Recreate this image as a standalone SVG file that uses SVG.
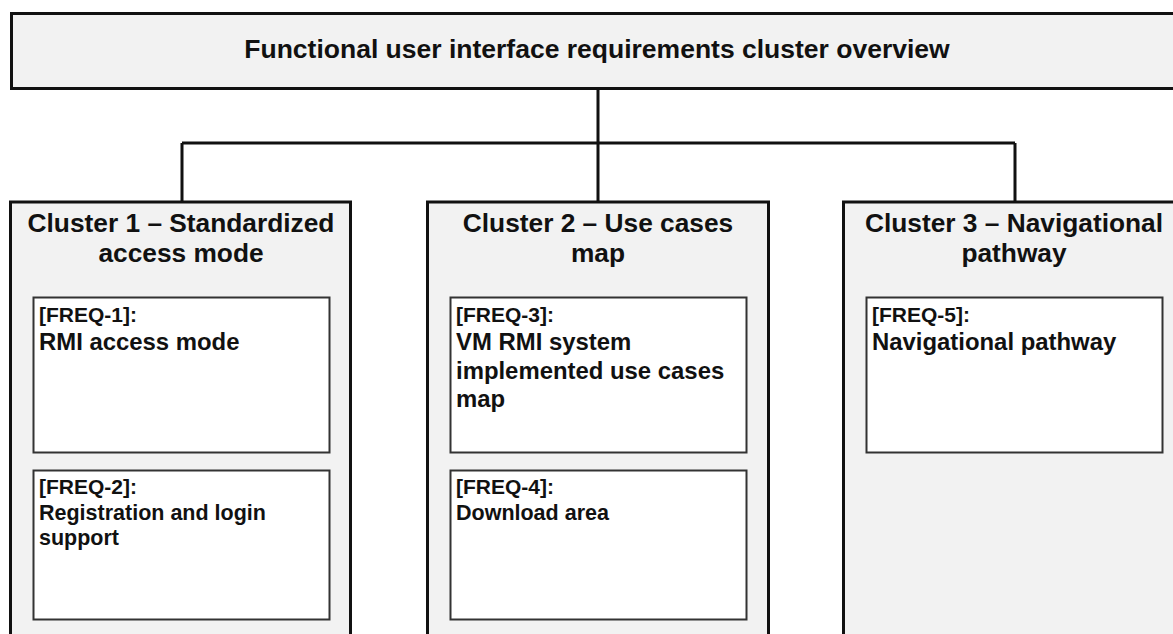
<svg xmlns="http://www.w3.org/2000/svg" width="1173" height="634" viewBox="0 0 1173 634">
<style>
  .outer { fill: #f2f2f2; stroke: #111; stroke-width: 3; }
  .inner { fill: #ffffff; stroke: #333; stroke-width: 2; }
  .conn { fill: none; stroke: #111; stroke-width: 3; }
  text { font-family: "Liberation Sans", Arial, sans-serif; font-weight: bold; fill: #111; }
  .title { font-size: 26.5px; text-anchor: middle; }
  .ctitle { font-size: 26.3px; text-anchor: middle; }
  .lab { font-size: 21px; }
  .big { font-size: 23.9px; }
  .small { font-size: 21.5px; }
</style>
<rect x="0" y="0" width="1173" height="634" fill="#ffffff"/>
<g id="connectors">
  <path class="conn" d="M598,89 V143 M182,143 H1015 M182,143 V202 M598,143 V202 M1015,143 V202"/>
</g>
<g id="overview">
  <rect class="outer" x="11.5" y="13.5" width="1180" height="75"/>
  <text class="title" x="597" y="58">Functional user interface requirements cluster overview</text>
</g>
<g id="cluster1">
  <rect class="outer" x="10.5" y="202" width="340" height="460"/>
  <text class="ctitle" x="181" y="232">Cluster 1 – Standardized</text>
  <text class="ctitle" x="181" y="262">access mode</text>
</g>
<g id="cluster2">
  <rect class="outer" x="427.5" y="202" width="341" height="460"/>
  <text class="ctitle" x="598" y="232">Cluster 2 – Use cases</text>
  <text class="ctitle" x="598" y="262">map</text>
</g>
<g id="cluster3">
  <rect class="outer" x="843.5" y="202" width="342" height="460"/>
  <text class="ctitle" x="1014" y="232">Cluster 3 – Navigational</text>
  <text class="ctitle" x="1014" y="262">pathway</text>
</g>
<g id="freq1">
  <rect class="inner" x="33.5" y="297.5" width="296" height="155"/>
  <text class="lab" x="39" y="322">[FREQ-1]:</text>
  <text class="big" x="39" y="350">RMI access mode</text>
</g>
<g id="freq2">
  <rect class="inner" x="33.5" y="470.5" width="296" height="149"/>
  <text class="lab" x="39" y="494">[FREQ-2]:</text>
  <text class="small" x="39" y="520">Registration and login</text>
  <text class="small" x="39" y="545">support</text>
</g>
<g id="freq3">
  <rect class="inner" x="450.5" y="297.5" width="296" height="155"/>
  <text class="lab" x="456" y="322">[FREQ-3]:</text>
  <text class="big" x="456" y="350">VM RMI system</text>
  <text class="big" x="456" y="379">implemented use cases</text>
  <text class="big" x="456" y="407">map</text>
</g>
<g id="freq4">
  <rect class="inner" x="450.5" y="470.5" width="296" height="149"/>
  <text class="lab" x="456" y="494">[FREQ-4]:</text>
  <text class="small" x="456" y="520">Download area</text>
</g>
<g id="freq5">
  <rect class="inner" x="866.5" y="297.5" width="296" height="155"/>
  <text class="lab" x="872" y="322">[FREQ-5]:</text>
  <text class="big" x="872" y="350">Navigational pathway</text>
</g>
</svg>
